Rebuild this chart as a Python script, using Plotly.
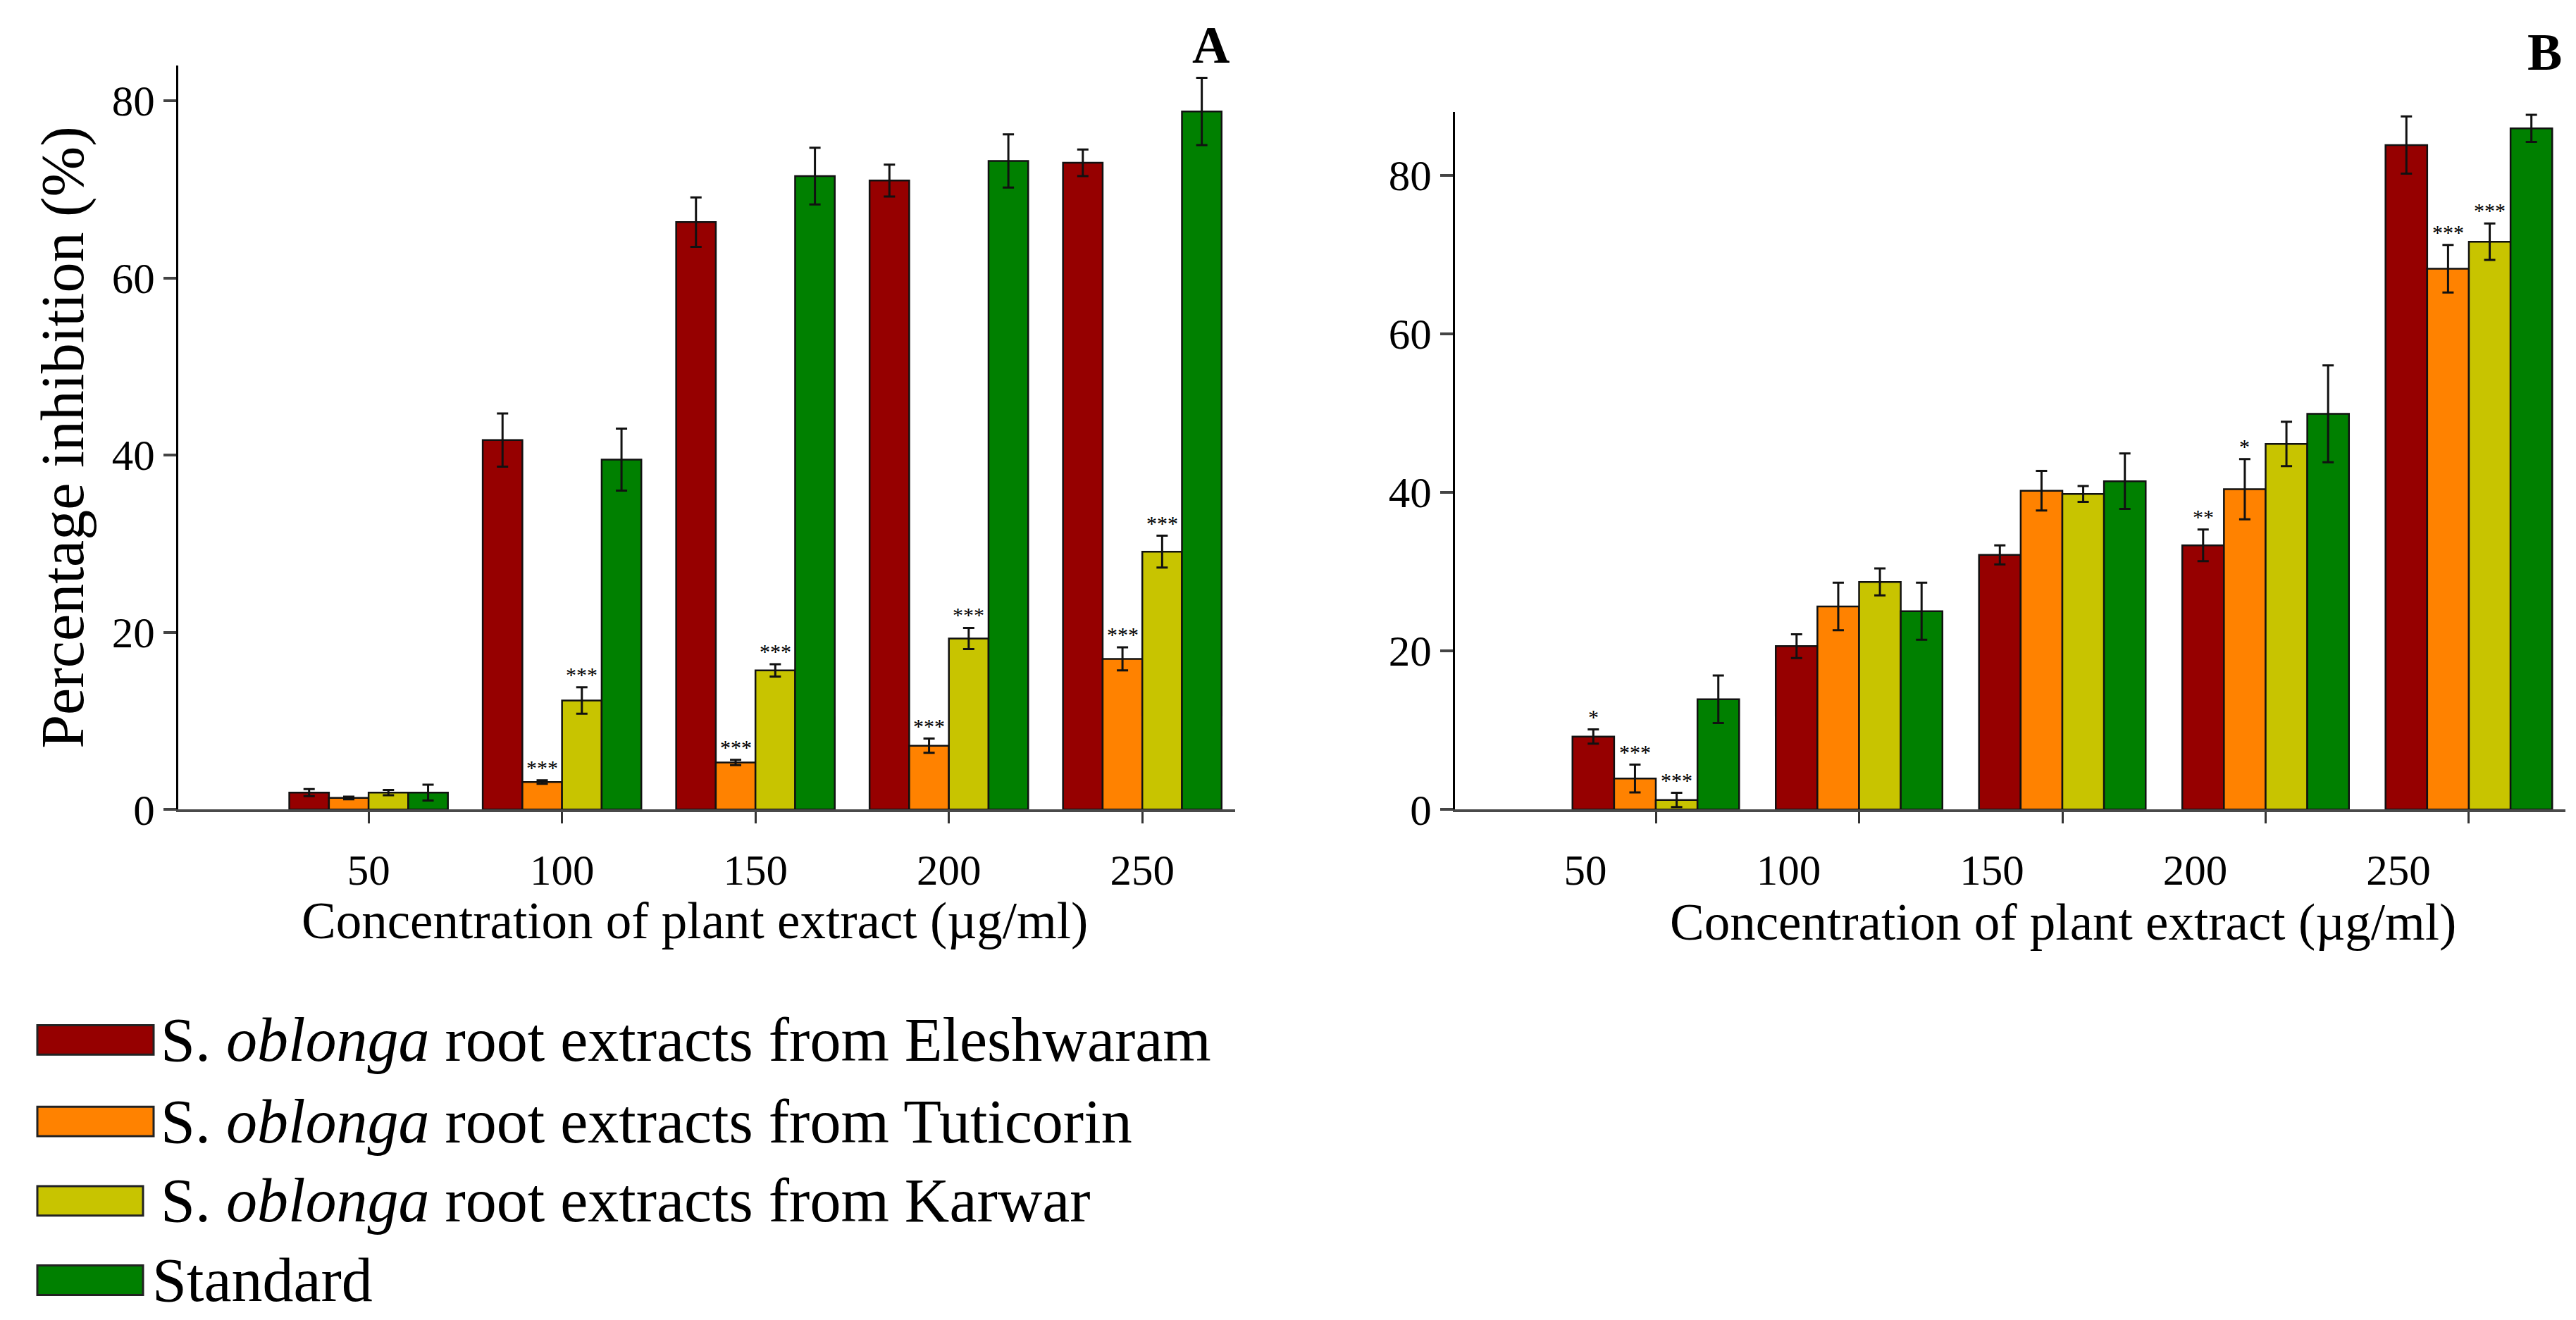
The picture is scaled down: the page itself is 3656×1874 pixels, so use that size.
import plotly.graph_objects as go

W, H = 3656, 1874
YF = 1.016  # small vertical correction measured against the reference photo

concentrations = ['50', '100', '150', '200', '250']
series_names = [
    'S. <i>oblonga</i> root extracts from Eleshwaram',
    'S. <i>oblonga</i> root extracts from Tuticorin',
    'S. <i>oblonga</i> root extracts from Karwar',
    'Standard',
]
colors = ['#960000', '#FF8200', '#C8C400', '#008000']

# panel A
a_eleshwaram = [1.9, 41.7, 66.3, 71.0, 73.0]
a_eleshwaram_err = [0.4, 3.0, 2.8, 1.8, 1.5]
a_tuticorin = [1.3, 3.1, 5.3, 7.2, 17.0]
a_tuticorin_err = [0.15, 0.2, 0.3, 0.8, 1.3]
a_karwar = [1.9, 12.3, 15.7, 19.3, 29.1]
a_karwar_err = [0.3, 1.5, 0.7, 1.2, 1.8]
a_standard = [1.9, 39.5, 71.5, 73.2, 78.8]
a_standard_err = [0.9, 3.5, 3.2, 3.0, 3.8]
a_stars = [
    ['', '', '', '', ''],
    ['', '***', '***', '***', '***'],
    ['', '***', '***', '***', '***'],
    ['', '', '', '', ''],
]

# panel B
b_eleshwaram = [9.2, 20.6, 32.1, 33.3, 83.8]
b_eleshwaram_err = [0.9, 1.5, 1.2, 2.0, 3.6]
b_tuticorin = [3.9, 25.6, 40.2, 40.4, 68.2]
b_tuticorin_err = [1.75, 3.0, 2.5, 3.8, 3.0]
b_karwar = [1.2, 28.7, 39.8, 46.1, 71.6]
b_karwar_err = [0.9, 1.7, 1.0, 2.8, 2.3]
b_standard = [13.9, 25.0, 41.4, 49.9, 85.9]
b_standard_err = [3.0, 3.6, 3.5, 6.1, 1.7]
b_stars = [
    ['*', '', '', '**', ''],
    ['***', '', '', '*', '***'],
    ['***', '', '', '', '***'],
    ['', '', '', '', ''],
]

FONT = 'Liberation Serif'
BARGAP = 0.18


def py(y):
    # pixel row (from top) -> paper fraction
    return 1 - y * YF / H


panels = [
    ('x', 'y', [a_eleshwaram, a_tuticorin, a_karwar, a_standard],
     [a_eleshwaram_err, a_tuticorin_err, a_karwar_err, a_standard_err], a_stars),
    ('x2', 'y2', [b_eleshwaram, b_tuticorin, b_karwar, b_standard],
     [b_eleshwaram_err, b_tuticorin_err, b_karwar_err, b_standard_err], b_stars),
]

fig = go.Figure()
annotations = []

for xa, ya, vals, errs, stars in panels:
    for k in range(4):
        fig.add_trace(go.Bar(
            x=concentrations, y=vals[k], name=series_names[k],
            xaxis=xa, yaxis=ya, showlegend=False,
            marker=dict(color=colors[k], line=dict(color='#111111', width=2.5)),
            error_y=dict(type='data', array=errs[k], color='#111111', thickness=3, width=8),
        ))
        # significance marks above the error bars
        bw = (1 - BARGAP) / 4
        for i in range(len(concentrations)):
            if stars[k][i]:
                annotations.append(dict(
                    x=i + (k - 1.5) * bw, y=vals[k][i] + errs[k][i],
                    xref=xa, yref=ya, text=stars[k][i], showarrow=False,
                    xanchor='center', yanchor='bottom',
                    font=dict(family=FONT, size=30, color='black'),
                ))


def paper_text(x, y, text, size, xanchor='center'):
    return dict(x=x / W, y=py(y), xref='paper', yref='paper', text=text,
                showarrow=False, xanchor=xanchor, yanchor='middle',
                font=dict(family=FONT, size=size, color='black'))


# axis titles, panel letters
annotations.append(paper_text(986, 1311, 'Concentration of plant extract (µg/ml)', 73))
annotations.append(paper_text(2928, 1313, 'Concentration of plant extract (µg/ml)', 73))
annotations.append(paper_text(1718, 64, '<b>A</b>', 74))
annotations.append(paper_text(3611, 74, '<b>B</b>', 74))

# hand-drawn legend (big swatches like the original)
legend_rows = [1480, 1596, 1709, 1822]
shapes = []
for k in range(4):
    yc = legend_rows[k]
    shapes.append(dict(type='rect', xref='paper', yref='paper',
                       x0=53 / W, x1=(218 if k < 2 else 203) / W,
                       y0=py(yc + 21), y1=py(yc - 21),
                       fillcolor=colors[k], line=dict(color='#222222', width=3)))
    annotations.append(paper_text(226 if k < 3 else 214, yc, series_names[k], 88,
                                  xanchor='left'))

xcommon = dict(type='category', showline=True, linecolor='#4a4a4a', linewidth=4,
               ticks='outside', ticklen=16, tickwidth=3, tickcolor='#333333',
               showgrid=False, zeroline=False, ticklabelstandoff=14,
               tickfont=dict(family=FONT, size=61, color='black'))
ycommon = dict(showline=True, linecolor='black', linewidth=3,
               ticks='outside', ticklen=18, tickwidth=4, tickcolor='#444444',
               showgrid=False, zeroline=False, dtick=20,
               tickfont=dict(family=FONT, size=61, color='black'))

fig.update_layout(
    width=W, height=H,
    margin=dict(l=0, r=0, t=0, b=0),
    paper_bgcolor='white', plot_bgcolor='white',
    barmode='group', bargap=BARGAP, bargroupgap=0,
    xaxis=dict(xcommon, domain=[253 / W, 1753 / W], range=[-0.984, 4.48], anchor='y'),
    yaxis=dict(ycommon, domain=[py(1152), py(93)], range=[0, 84], anchor='x',
               title=dict(text='Percentage inhibition (%)', standoff=12,
                          font=dict(family=FONT, size=86, color='black'))),
    xaxis2=dict(xcommon, domain=[2065 / W, 3641 / W], range=[-0.988, 4.475], anchor='y2',
                ticklabelshift=-100),
    yaxis2=dict(ycommon, domain=[py(1152), py(159)], range=[0, 88], anchor='x2'),
    annotations=annotations,
    shapes=shapes,
)

fig.write_html("out.html", config={'displayModeBar': False},
               post_script="document.body.style.margin='0';")
